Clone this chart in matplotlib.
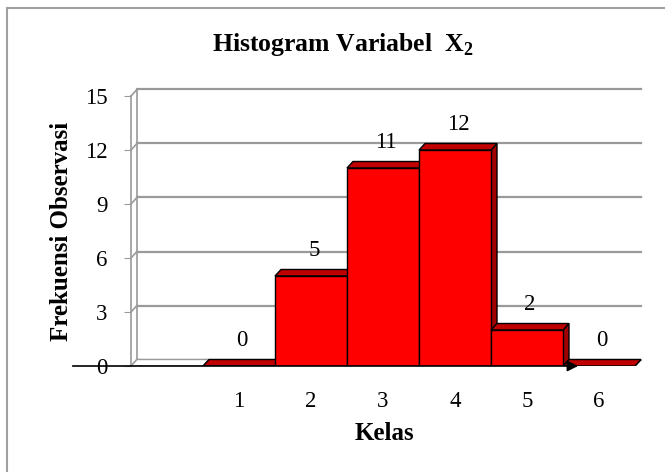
import matplotlib
matplotlib.use('AGG')
import matplotlib.pyplot as plt
from matplotlib.patches import Polygon, Rectangle

# data
categories = ["", "1", "2", "3", "4", "5", "6"]
frekuensi = [0, 0, 5, 11, 12, 2, 0]
y_ticks = [0, 3, 6, 9, 12, 15]
title = r"Histogram Variabel  $\mathbf{X}_\mathbf{2}$"

plt.rcParams['font.family'] = ['Liberation Serif', 'DejaVu Serif']
plt.rcParams['mathtext.fontset'] = 'custom'
plt.rcParams['mathtext.rm'] = 'Liberation Serif'
plt.rcParams['mathtext.bf'] = 'Liberation Serif:bold'

W, H = 665, 472
fig = plt.figure(figsize=(W / 100, H / 100), dpi=100)

# depth of the pseudo 3d look, in data units (6 px right, 6.5 px up)
dx = 6 / 72
dy = 6.5 / 18
ymax = 15

n = len(categories)
left_px, bottom_px = 131, H - 366
ax_w, ax_h = 72 * (n + dx), 18 * (ymax + dy)
ax = fig.add_axes([left_px / W, bottom_px / H, ax_w / W, ax_h / H])
ax.set_xlim(-0.5, n - 0.5 + dx)
ax.set_ylim(0, ymax + dy)

grid_col = '#9a9a9a'
# back wall grid + connectors to the front axis
for v in y_ticks:
    ax.plot([-0.5 + dx, n - 0.5 + dx], [v + dy, v + dy], color=grid_col, lw=1.6, zorder=1, clip_on=False)
    ax.plot([-0.5, -0.5 + dx], [v, v + dy], color=grid_col, lw=1.2, zorder=1, clip_on=False)
ax.plot([-0.5 + dx, -0.5 + dx], [dy, ymax + dy], color=grid_col, lw=1.2, zorder=1, clip_on=False)

# bars
for i, v in enumerate(frekuensi):
    x0, x1 = i - 0.5, i + 0.5
    if categories[i] == "":
        face, top, side, ec = 'white', 'white', 'white', grid_col
    else:
        face, top, side, ec = '#ff0000', '#c00000', '#a00000', 'black'
    z = 2 + i
    ax.add_patch(Polygon([(x1, 0), (x1 + dx, dy), (x1 + dx, v + dy), (x1, v)],
                         closed=True, fc=side, ec=ec, lw=1, zorder=z))
    ax.add_patch(Polygon([(x0, v), (x1, v), (x1 + dx, v + dy), (x0 + dx, v + dy)],
                         closed=True, fc=top, ec=ec, lw=1, zorder=z))
    if v > 0:
        ax.add_patch(Rectangle((x0, 0), 1, v, fc=face, ec=ec, lw=1, zorder=z))
    if categories[i] != "":
        ax.text(i + dx / 2, v + dy + 0.5, str(v), ha='center', va='bottom',
                fontsize=16.5, zorder=20)

# front floor line with arrow
ax.annotate("", xy=(5.71, 0), xytext=(-1.31, 0), annotation_clip=False,
            arrowprops=dict(arrowstyle='-|>', color='black', lw=1.2,
                            mutation_scale=16, shrinkA=0, shrinkB=0),
            zorder=30)

for s in ['top', 'right', 'bottom']:
    ax.spines[s].set_visible(False)
ax.spines['left'].set_color(grid_col)
ax.spines['left'].set_linewidth(1.2)
ax.spines['left'].set_bounds(0, ymax)
ax.set_yticks(y_ticks)
ax.tick_params(axis='y', length=5, color=grid_col, labelsize=16.5, pad=12)
ax.set_xticks(range(n))
ax.set_xticklabels(categories)
ax.tick_params(axis='x', length=0, labelsize=16.5, pad=18)
ax.patch.set_visible(False)

ax.set_xlabel("Kelas", fontsize=18, fontweight='bold')
ax.xaxis.set_label_coords((384 - 131) / ax_w, -(434 - 366) / ax_h)
ax.xaxis.label.set_va('center')
ax.set_ylabel("Frekuensi Observasi", fontsize=18, fontweight='bold')
ax.yaxis.set_label_coords(-(131 - 62) / ax_w, (366 - 231) / ax_h)
ax.yaxis.label.set_va('center')
fig.text(343 / W, 1 - 44 / H, title, ha='center', va='center', fontsize=18.5, fontweight='bold')

# chart border
fig.patches.append(Rectangle((7 / W, -0.1), 1.1, 1 - 8 / H + 0.1, transform=fig.transFigure,
                             fill=False, ec='#a0a0a0', lw=1.5))

fig.savefig('out.png', dpi=100)
